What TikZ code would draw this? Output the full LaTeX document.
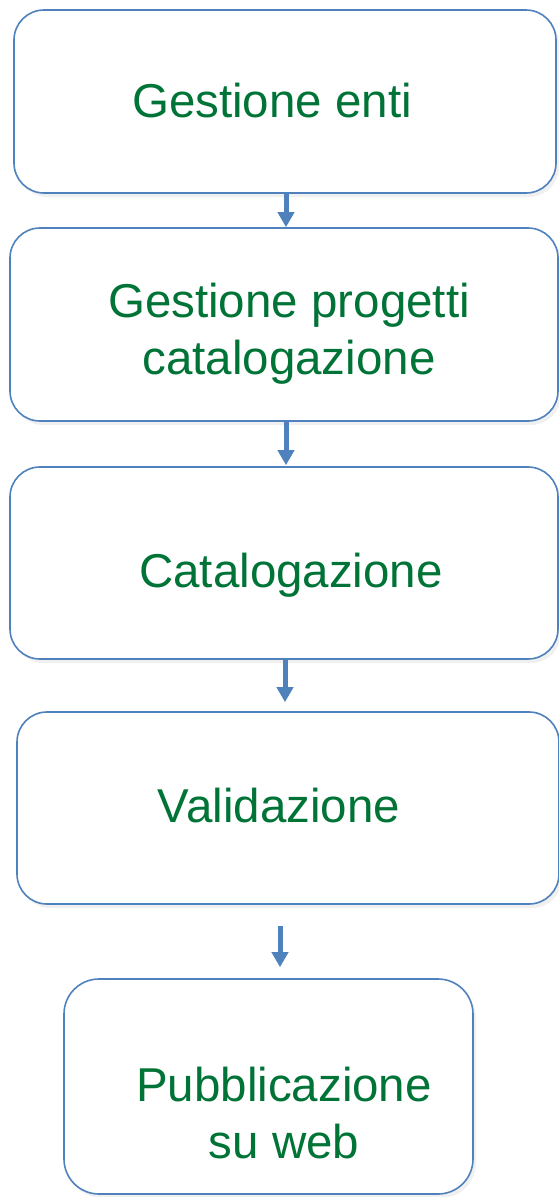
\documentclass[tikz,border=0pt]{standalone}
\usepackage{fontspec}
\setmainfont{Liberation Sans}
\usepackage{tikz}
\usetikzlibrary{arrows.meta, shadows}
\definecolor{boxblue}{RGB}{79,129,189}
\definecolor{txtgreen}{RGB}{0,115,55}

\begin{document}
\begin{tikzpicture}[x=1pt, y=-1pt,
      box/.style={draw=boxblue, line width=1.6pt, rounded corners=30pt, fill=white,
        drop shadow={opacity=0.12, shadow xshift=3pt, shadow yshift=-4pt}},
      txt/.style={text=txtgreen, align=center, font=\fontsize{47.5}{57}\selectfont},
      arr/.style={-{Triangle[width=16pt, length=15pt]}, line width=5pt, draw=boxblue}]
    \useasboundingbox (0,0) rectangle (559,1197);
    \node[box, minimum width=542pt, minimum height=183pt] (enti) at (285,101.5) {};
    \node[box, minimum width=548pt, minimum height=193pt] (prog) at (284,324.5) {};
    \node[box, minimum width=548pt, minimum height=192pt] (cat) at (284,563) {};
    \node[box, minimum width=542pt, minimum height=192pt] (val) at (288,808) {};
    \node[box, minimum width=409pt, minimum height=215pt, rounded corners=35pt] (pub) at (268.5,1086.5) {};
    \node[txt] (enti-t) at (272,101) {Gestione enti};
    \node[txt] (prog-t) at (289,334) {Gestione progetti\\catalogazione};
    \node[txt] (cat-t) at (291,575) {Catalogazione};
    \node[txt] (val-t) at (279,806) {Validazione};
    \node[txt] (pub-t) at (284,1113) {Pubblicazione\\su web};
    \draw[arr] ([xshift=1pt]enti.south) -- ([xshift=1pt]enti.south |- prog.north);
    \draw[arr, shorten >=1pt] ([xshift=2pt]prog.south) -- ([xshift=2pt]prog.south |- cat.north);
    \draw[arr, shorten >=9pt] ([xshift=1pt]cat.south) -- ([xshift=1pt]cat.south |- val.north);
    \draw[arr, shorten <=21pt, shorten >=11pt] ([xshift=-8pt]val.south) -- ([xshift=-8pt]val.south |- pub.north);
  \end{tikzpicture}
\end{document}
